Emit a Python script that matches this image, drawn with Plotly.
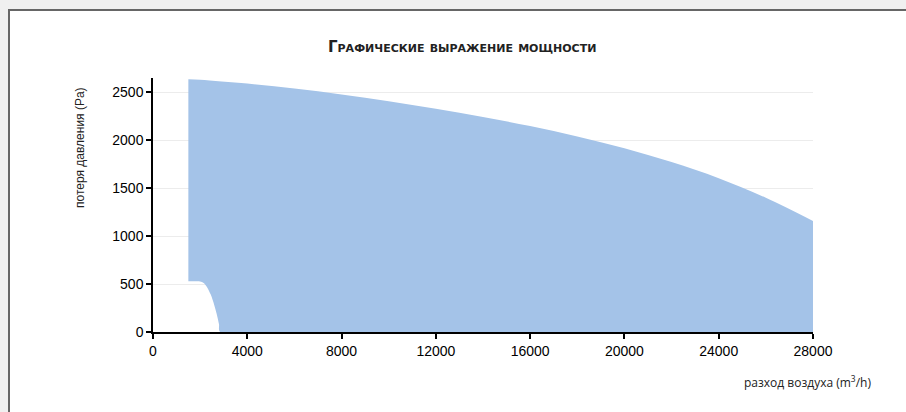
import plotly.graph_objects as go

# Upper boundary (max pressure curve)
upper_q = [1500, 2000, 4000, 6000, 8000, 10000, 12000, 14000, 16000, 18000,
           20000, 22000, 24000, 26000, 28000]
upper_p = [2638, 2633, 2592, 2540, 2478, 2408, 2330, 2244, 2148, 2040,
           1918, 1774, 1605, 1400, 1158]
# Lower boundary (min curve), left to right
lower_q = [1500, 1800, 2000, 2150, 2300, 2450, 2600, 2700, 2800, 2850, 28000]
lower_p = [530, 530, 528, 512, 465, 390, 280, 190, 80, 0, 0]

x_ticks = [0, 4000, 8000, 12000, 16000, 20000, 24000, 28000]
y_ticks = [0, 500, 1000, 1500, 2000, 2500]

title_text = "Графические выражение мощности"
x_title = "разход воздуха (m<sup>3</sup>/h)"
y_title = "потеря давления (Pa)"

fill_color = "rgb(164,195,232)"

fig = go.Figure()
fig.add_trace(go.Scatter(
    x=lower_q, y=lower_p, mode="lines",
    line=dict(width=0, shape="spline", smoothing=0.8, color=fill_color),
    hoverinfo="skip", showlegend=False,
))
fig.add_trace(go.Scatter(
    x=upper_q, y=upper_p, mode="lines", fill="tonexty",
    fillcolor=fill_color, line=dict(width=0, shape="spline", smoothing=1, color=fill_color),
    hoverinfo="skip", showlegend=False,
))

fig.update_layout(
    width=906, height=412,
    margin=dict(l=153, r=93, t=78, b=80),
    paper_bgcolor="#f0f0f0",
    plot_bgcolor="white",
    showlegend=False,
    font=dict(family="Liberation Sans, Arial, Helvetica, sans-serif", size=14, color="black"),
    xaxis=dict(
        range=[0, 28000], tickvals=x_ticks, ticktext=[str(v) for v in x_ticks],
        showgrid=False, zeroline=False, showline=True, linecolor="black", linewidth=1.5,
        ticks="outside", ticklen=5, tickwidth=1.5, tickcolor="black",
        tickfont=dict(size=14),
    ),
    yaxis=dict(
        range=[0, 2650], tickvals=y_ticks, ticktext=[str(v) for v in y_ticks],
        showgrid=True, gridcolor="#ececec", gridwidth=1, zeroline=False,
        showline=True, linecolor="black", linewidth=1.5,
        ticks="outside", ticklen=5, tickwidth=1.5, tickcolor="black",
        tickfont=dict(size=14),
    ),
    shapes=[dict(
        type="rect", xref="paper", yref="paper", layer="below",
        x0=(9 - 153) / 660, x1=(930 - 153) / 660,
        y0=(332 - 440) / 254, y1=(332 - 10) / 254,
        fillcolor="white", line=dict(color="#666666", width=2),
    )],
    annotations=[
        dict(text=title_text, xref="paper", yref="paper",
             x=(462 - 153) / 660, y=(332 - 47) / 254, xanchor="center", yanchor="middle",
             showarrow=False,
             font=dict(family="DejaVu Sans, sans-serif",
                       size=15, color="#222", weight="bold", variant="small-caps")),
        dict(text=x_title, xref="paper", yref="paper",
             x=(873 - 153) / 660, y=(332 - 382) / 254, xanchor="right", yanchor="middle",
             showarrow=False,
             font=dict(family="Open Sans, sans-serif", size=12, color="#222")),
        dict(text=y_title, xref="paper", yref="paper", textangle=-90,
             x=(80 - 153) / 660, y=(332 - 148) / 254, xanchor="center", yanchor="middle",
             showarrow=False,
             font=dict(family="Liberation Sans, Arial, sans-serif", size=12, color="#222")),
    ],
)

fig.write_html("out.html", config={"displayModeBar": False},
               post_script="document.body.style.margin='0px';")
